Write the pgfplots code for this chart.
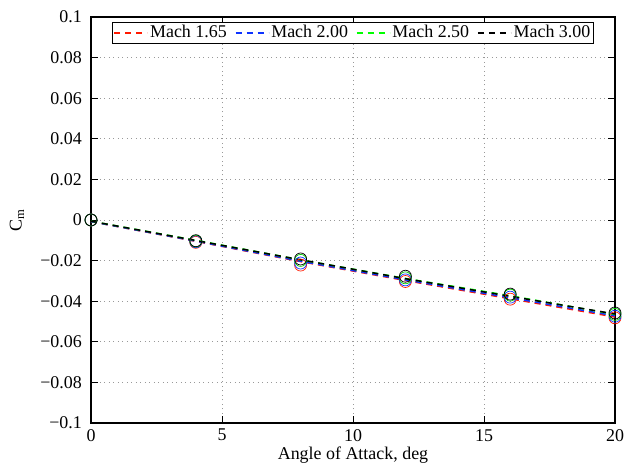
\documentclass[border=0pt]{standalone}
\usepackage{fontspec}
\setmainfont{Liberation Serif}
\usepackage{pgfplots}
\pgfplotsset{compat=1.18}
\definecolor{mred}{rgb}{1,0.1,0}
\definecolor{mblue}{rgb}{0.05,0.2,1}
\definecolor{mgreen}{rgb}{0,1,0}
\begin{document}
\fontsize{18}{21}\selectfont
\begin{tikzpicture}[x=1bp,y=1bp]
\begin{axis}[
  scale only axis, width=524bp, height=406bp,
  xmin=0, xmax=20, ymin=-0.1, ymax=0.1,
  xtick={0,5,10,15,20},
  ytick={-0.1,-0.08,-0.06,-0.04,-0.02,0,0.02,0.04,0.06,0.08,0.1},
  yticklabels={−0.1,−0.08,−0.06,−0.04,−0.02,0,0.02,0.04,0.06,0.08,0.1},
  /pgf/number format/assume math mode=true,
  tick align=inside, major tick length=7bp,
  tick style={black, line width=0.6bp},
  axis line style={line width=1.2bp},
  grid=major,
  grid style={dash pattern=on 1bp off 3.5bp, gray!80, line width=0.9bp},
  tick label style={font=\fontsize{18}{21}\selectfont},
  xticklabel style={yshift=0bp},
  yticklabel style={xshift=-3bp},
  xlabel={Angle of Attack, deg},
  ylabel={C\textsubscript{m}},
  xlabel style={yshift=7bp},
  ylabel style={yshift=4bp},
  label style={font=\fontsize{18}{21}\selectfont},
  legend columns=4,
  legend style={at={(0.5,0.988)}, anchor=north, draw=black, line width=0.8bp,
    font=\fontsize{18}{21}\selectfont, inner sep=1bp,
    /tikz/every even column/.append style={column sep=6bp}},
  legend image code/.code={\draw[#1] (0bp,0bp) -- (33bp,0bp);},
]
% fitted lines
\addplot[mred, dashed, dash pattern=on 6bp off 5bp, line width=1.5bp] coordinates {(0,-0.0008) (4,-0.0105) (8,-0.0205) (12,-0.0298) (16,-0.0388) (20,-0.0478)};
\addlegendentry{Mach 1.65}
\addplot[mblue, dashed, dash pattern=on 6bp off 5bp, line width=1.5bp] coordinates {(0,-0.0008) (4,-0.0104) (8,-0.0203) (12,-0.0295) (16,-0.0383) (20,-0.0472)};
\addlegendentry{Mach 2.00}
\addplot[mgreen, dashed, dash pattern=on 6bp off 5bp, line width=1.5bp] coordinates {(0,-0.0006) (4,-0.0100) (8,-0.0196) (12,-0.0288) (16,-0.0373) (20,-0.0465)};
\addlegendentry{Mach 2.50}
\addplot[black, dashed, dash pattern=on 6bp off 5bp, line width=1.5bp] coordinates {(0,-0.0006) (4,-0.0101) (8,-0.0196) (12,-0.0289) (16,-0.0376) (20,-0.0463)};
\addlegendentry{Mach 3.00}
% measured points
\addplot[forget plot, only marks, mark=o, mark size=6bp, mark options={mred, line width=0.7bp}] coordinates {(0,0) (4,-0.0110) (8,-0.0222) (12,-0.0303) (16,-0.0390) (20,-0.0482)};
\addplot[forget plot, only marks, mark=o, mark size=6bp, mark options={mblue, line width=0.7bp}] coordinates {(0,0) (4,-0.0107) (8,-0.0212) (12,-0.0295) (16,-0.0380) (20,-0.0474)};
\addplot[forget plot, only marks, mark=o, mark size=6bp, mark options={mgreen!80!black, line width=0.7bp}] coordinates {(0,0) (4,-0.0104) (8,-0.0199) (12,-0.0285) (16,-0.0370) (20,-0.0465)};
\addplot[forget plot, only marks, mark=o, mark size=6bp, mark options={black, line width=0.7bp}] coordinates {(0,0) (4,-0.0102) (8,-0.0192) (12,-0.0277) (16,-0.0365) (20,-0.0458)};
\end{axis}
\path (current axis.south west) ++(-91bp,-41bp) rectangle ++(630bp,464bp);
\end{tikzpicture}
\end{document}
